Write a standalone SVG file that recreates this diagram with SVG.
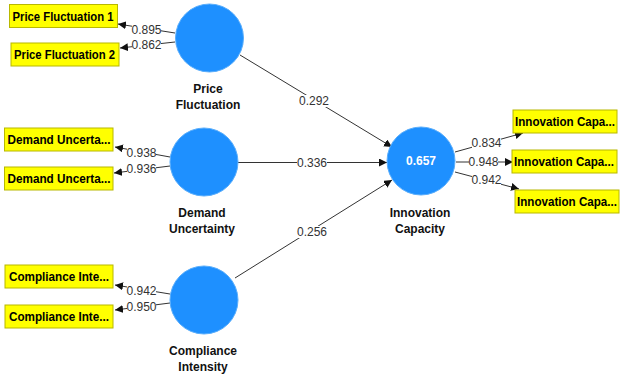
<svg xmlns="http://www.w3.org/2000/svg" width="624" height="378" viewBox="0 0 624 378">
<style>
.box{fill:#ffff00;stroke:#b8b800;stroke-width:1}
.bt{font-family:"Liberation Sans",Arial,sans-serif;font-weight:bold;font-size:12px;fill:#000}
.lv{fill:#1e90ff;stroke:#5aaefc;stroke-width:1}
.nm{font-family:"Liberation Sans",Arial,sans-serif;font-weight:bold;font-size:12px;fill:#111;text-anchor:middle}
.ln{stroke:#333;stroke-width:1;fill:none;marker-end:url(#ah)}
.lb{font-family:"Liberation Sans",Arial,sans-serif;font-size:12px;fill:#333;text-anchor:middle;dominant-baseline:central}
.bg{fill:#fff}
.r2{font-family:"Liberation Sans",Arial,sans-serif;font-weight:bold;font-size:12px;fill:#fff;text-anchor:middle;dominant-baseline:central}
</style>
<defs>
<marker id="ah" markerUnits="userSpaceOnUse" markerWidth="9" markerHeight="8" refX="8" refY="4" orient="auto">
<path d="M0,0 L8,4 L0,8 Z" fill="#111"/>
</marker>
</defs>
<rect width="624" height="378" fill="#fff"/>
<g id="connectors">
<line class="ln" x1="175" y1="33" x2="118" y2="24"/>
<line class="ln" x1="175" y1="42" x2="120" y2="48"/>
<line class="ln" x1="170" y1="157" x2="115" y2="147"/>
<line class="ln" x1="170" y1="166" x2="114" y2="173"/>
<line class="ln" x1="170" y1="294" x2="115" y2="285"/>
<line class="ln" x1="170" y1="303" x2="115" y2="310"/>
<line class="ln" x1="455" y1="152" x2="523" y2="133"/>
<line class="ln" x1="456" y1="162" x2="513" y2="162"/>
<line class="ln" x1="455" y1="172" x2="519" y2="189"/>
<line class="ln" x1="240" y1="55" x2="392" y2="147"/>
<line class="ln" x1="238" y1="162.5" x2="387" y2="162.5"/>
<line class="ln" x1="235" y1="278" x2="392" y2="180"/>
<rect class="bg" x="132" y="24" width="29" height="12"/><text class="lb" x="146.5" y="30">0.895</text>
<rect class="bg" x="132" y="39" width="29" height="12"/><text class="lb" x="146.5" y="45">0.862</text>
<rect class="bg" x="127" y="147" width="29" height="12"/><text class="lb" x="141.5" y="153">0.938</text>
<rect class="bg" x="127" y="163" width="29" height="12"/><text class="lb" x="141.5" y="169">0.936</text>
<rect class="bg" x="127" y="285" width="29" height="12"/><text class="lb" x="141.5" y="291">0.942</text>
<rect class="bg" x="127" y="301" width="29" height="12"/><text class="lb" x="141.5" y="307">0.950</text>
<rect class="bg" x="472" y="137" width="29" height="12"/><text class="lb" x="486.5" y="143">0.834</text>
<rect class="bg" x="469" y="156" width="29" height="12"/><text class="lb" x="483.5" y="162">0.948</text>
<rect class="bg" x="472" y="174" width="29" height="12"/><text class="lb" x="486.5" y="180">0.942</text>
<rect class="bg" x="299" y="95" width="30" height="12"/><text class="lb" x="314" y="101">0.292</text>
<rect class="bg" x="297" y="156.5" width="30" height="12"/><text class="lb" x="312" y="162.5">0.336</text>
<rect class="bg" x="297" y="226" width="30" height="12"/><text class="lb" x="312" y="232">0.256</text>
</g>
<g id="ind-pf1"><rect class="box" x="9.5" y="4.5" width="108" height="23"/><text class="bt" x="12.5" y="20.5" textLength="101" lengthAdjust="spacingAndGlyphs">Price Fluctuation 1</text></g>
<g id="ind-pf2"><rect class="box" x="11" y="43" width="108" height="23"/><text class="bt" x="14" y="59" textLength="101" lengthAdjust="spacingAndGlyphs">Price Fluctuation 2</text></g>
<g id="ind-du1"><rect class="box" x="4.5" y="128" width="108.5" height="23"/><text class="bt" x="7.5" y="144" textLength="103" lengthAdjust="spacingAndGlyphs">Demand Uncerta...</text></g>
<g id="ind-du2"><rect class="box" x="4.5" y="167" width="108.5" height="23"/><text class="bt" x="7.5" y="183" textLength="103" lengthAdjust="spacingAndGlyphs">Demand Uncerta...</text></g>
<g id="ind-ci1"><rect class="box" x="5" y="265" width="108" height="23"/><text class="bt" x="9" y="281" textLength="100" lengthAdjust="spacingAndGlyphs">Compliance Inte...</text></g>
<g id="ind-ci2"><rect class="box" x="5" y="305" width="108" height="23"/><text class="bt" x="9" y="321" textLength="100" lengthAdjust="spacingAndGlyphs">Compliance Inte...</text></g>
<g id="ind-ic1"><rect class="box" x="513" y="110" width="104" height="23"/><text class="bt" x="515" y="126" textLength="100" lengthAdjust="spacingAndGlyphs">Innovation Capa...</text></g>
<g id="ind-ic2"><rect class="box" x="512" y="150" width="105" height="23"/><text class="bt" x="514" y="166" textLength="100" lengthAdjust="spacingAndGlyphs">Innovation Capa...</text></g>
<g id="ind-ic3"><rect class="box" x="515" y="190" width="104" height="23"/><text class="bt" x="517" y="206" textLength="100" lengthAdjust="spacingAndGlyphs">Innovation Capa...</text></g>
<g id="lv-pf"><circle class="lv" cx="209.5" cy="38" r="34"/><text class="nm" x="208" y="93">Price</text><text class="nm" x="208" y="109">Fluctuation</text></g>
<g id="lv-du"><circle class="lv" cx="204" cy="162" r="34"/><text class="nm" x="202" y="217">Demand</text><text class="nm" x="202" y="233">Uncertainty</text></g>
<g id="lv-ci"><circle class="lv" cx="204" cy="300" r="34"/><text class="nm" x="203" y="355">Compliance</text><text class="nm" x="203" y="371">Intensity</text></g>
<g id="lv-ic"><circle class="lv" cx="421" cy="161" r="34"/><text class="r2" x="421" y="161">0.657</text><text class="nm" x="420" y="217">Innovation</text><text class="nm" x="420" y="233">Capacity</text></g>
</svg>
